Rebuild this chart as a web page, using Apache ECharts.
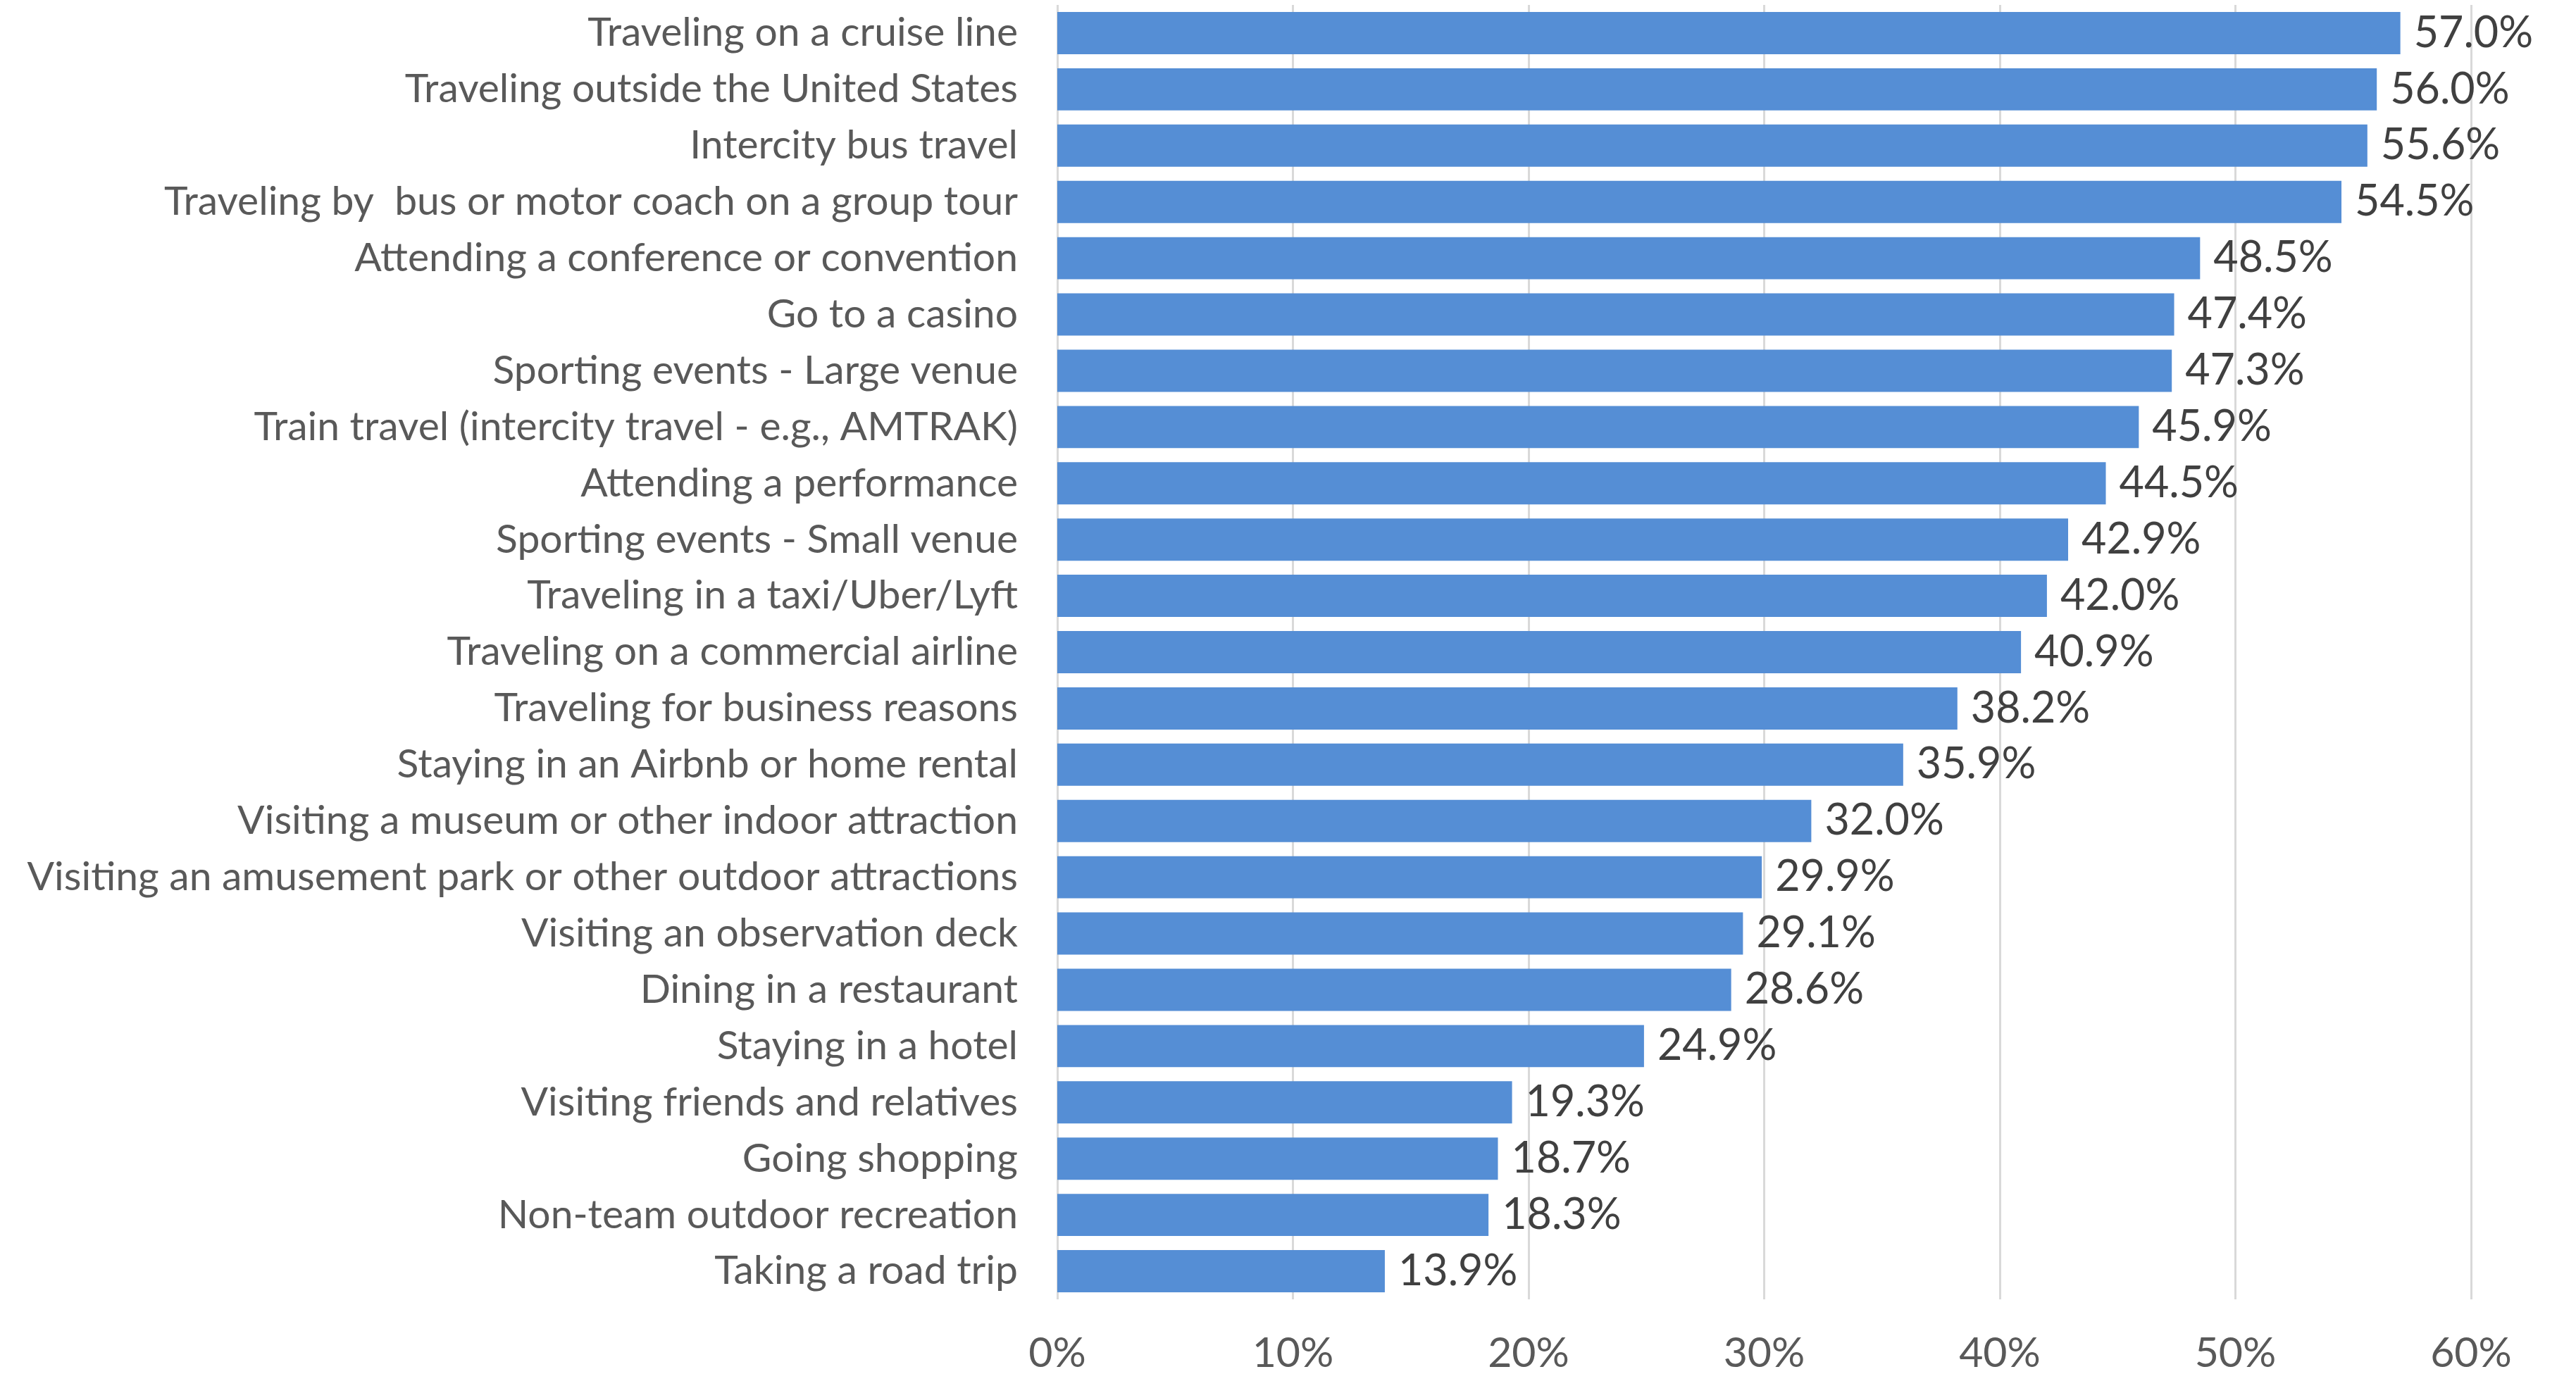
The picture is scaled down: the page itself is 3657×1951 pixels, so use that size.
<!DOCTYPE html>
<html>
<head>
<meta charset="utf-8">
<script src="https://cdn.jsdelivr.net/npm/echarts@6/dist/echarts.min.js"></script>
<style>
  html, body { margin: 0; padding: 0; background: #ffffff; }
  #chart { width: 3657px; height: 1951px; }
</style>
</head>
<body>
<div id="chart"></div>
<script>
// Activities, listed top to bottom
const categories = [
  'Traveling on a cruise line',
  'Traveling outside the United States',
  'Intercity bus travel',
  'Traveling by  bus or motor coach on a group tour',
  'Attending a conference or convention',
  'Go to a casino',
  'Sporting events - Large venue',
  'Train travel (intercity travel - e.g., AMTRAK)',
  'Attending a performance',
  'Sporting events - Small venue',
  'Traveling in a taxi/Uber/Lyft',
  'Traveling on a commercial airline',
  'Traveling for business reasons',
  'Staying in an Airbnb or home rental',
  'Visiting a museum or other indoor attraction',
  'Visiting an amusement park or other outdoor attractions',
  'Visiting an observation deck',
  'Dining in a restaurant',
  'Staying in a hotel',
  'Visiting friends and relatives',
  'Going shopping',
  'Non-team outdoor recreation',
  'Taking a road trip'
];

// Share of respondents (%)
const values = [
  57.0, 56.0, 55.6, 54.5, 48.5, 47.4, 47.3, 45.9, 44.5, 42.9, 42.0, 40.9,
  38.2, 35.9, 32.0, 29.9, 29.1, 28.6, 24.9, 19.3, 18.7, 18.3, 13.9
];

// Value axis ticks
const tickValues = [0, 10, 20, 30, 40, 50, 60];

const FONT = 'Lato, "DejaVu Sans", sans-serif';

const chart = echarts.init(document.getElementById('chart'), null, { renderer: 'canvas' });

chart.setOption({
  animation: false,
  backgroundColor: '#ffffff',
  grid: { left: 1501, right: 149, top: 7, bottom: 97, containLabel: false },
  xAxis: {
    type: 'value',
    min: tickValues[0],
    max: tickValues[tickValues.length - 1],
    interval: tickValues[1] - tickValues[0],
    axisLine: { show: false },
    axisTick: { show: false },
    splitLine: { show: true, lineStyle: { color: '#D9D9D9', width: 3 } },
    axisLabel: {
      margin: 47,
      color: '#595959',
      fontFamily: FONT,
      fontSize: 59,
      formatter: v => v + '%'
    }
  },
  yAxis: {
    type: 'category',
    data: categories,
    inverse: true,
    axisLine: { show: false },
    axisTick: { show: false },
    splitLine: { show: false },
    axisLabel: {
      margin: 56,
      color: '#595959',
      fontFamily: FONT,
      fontSize: 57
    }
  },
  series: [{
    type: 'bar',
    data: values,
    barCategoryGap: '25%',
    itemStyle: { color: '#558ED5' },
    label: {
      show: true,
      position: 'right',
      distance: 19,
      color: '#404040',
      fontFamily: FONT,
      fontSize: 61,
      formatter: p => p.value.toFixed(1) + '%'
    }
  }]
});
</script>
</body>
</html>
